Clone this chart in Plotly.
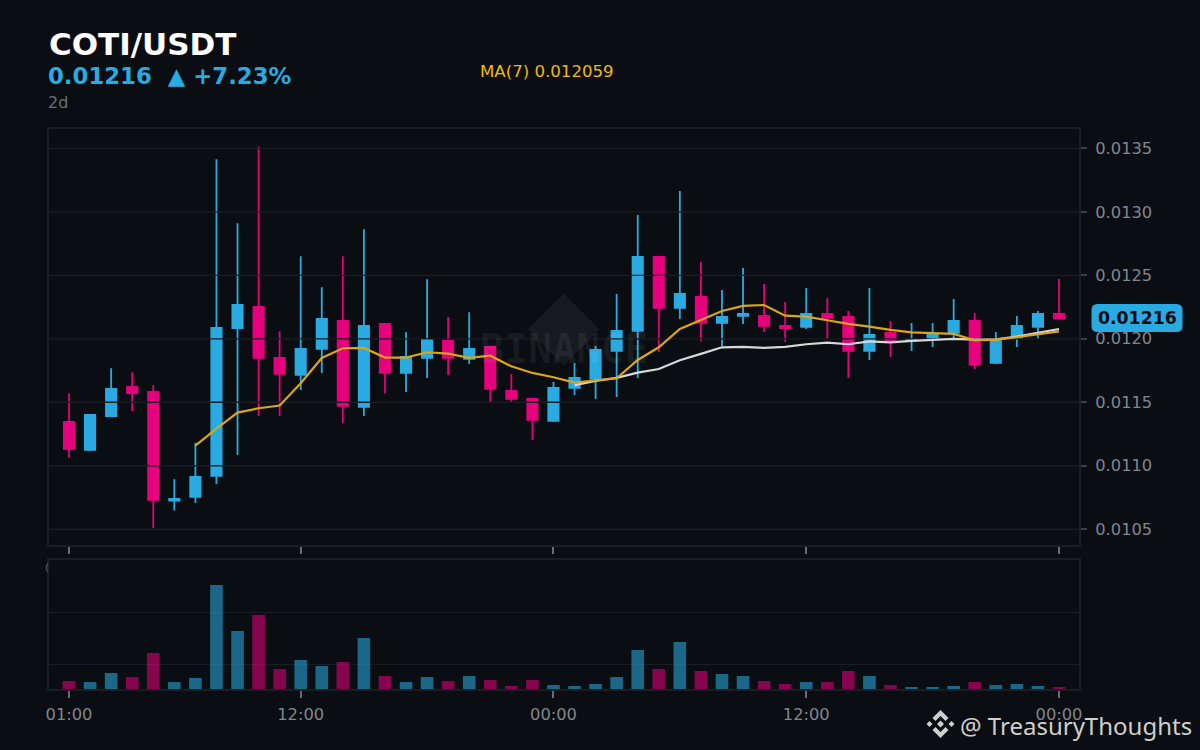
import pandas as pd
from plotly.subplots import make_subplots
import plotly.graph_objs as go

W = 1200
H = 750

times = pd.date_range('2024-03-01 01:00', periods = 48, freq = 'h')

opens = [0.011345, 0.011125, 0.011392, 0.011621, 0.011581, 0.010726, 0.010755, 0.010920,
         0.012085, 0.012251, 0.011849, 0.011715, 0.011920, 0.012140, 0.011463, 0.012117,
         0.011731, 0.011849, 0.011983, 0.011841, 0.011936, 0.011589, 0.011526, 0.011353,
         0.011613, 0.011684, 0.011904, 0.012062, 0.012644, 0.012243, 0.012329, 0.012125,
         0.012180, 0.012180, 0.012101, 0.012093, 0.012196, 0.012172, 0.011904, 0.012046,
         0.011983, 0.012007, 0.012046, 0.012140, 0.011810, 0.012007, 0.012093, 0.012196]
highs = [0.011571, 0.011408, 0.011768, 0.011736, 0.011634, 0.010894, 0.011182, 0.013413,
         0.012909, 0.013516, 0.012059, 0.012650, 0.012405, 0.012650, 0.012862, 0.012125,
         0.012051, 0.012469, 0.012172, 0.012209, 0.011944, 0.011723, 0.011534, 0.011660,
         0.011810, 0.011944, 0.012353, 0.012975, 0.012652, 0.013164, 0.012605, 0.012385,
         0.012558, 0.012432, 0.012290, 0.012400, 0.012322, 0.012219, 0.012400, 0.012140,
         0.012125, 0.012125, 0.012314, 0.012203, 0.012054, 0.012180, 0.012219, 0.012471]
lows = [0.011064, 0.011117, 0.011384, 0.011432, 0.010510, 0.010647, 0.010707, 0.010857,
        0.011085, 0.011392, 0.011392, 0.011597, 0.011731, 0.011337, 0.011392, 0.011573,
        0.011581, 0.011692, 0.011715, 0.011802, 0.011495, 0.011495, 0.011203, 0.011345,
        0.011558, 0.011526, 0.011542, 0.011692, 0.011896, 0.012156, 0.011983, 0.011944,
        0.012117, 0.012054, 0.011975, 0.012077, 0.011999, 0.011692, 0.011833, 0.011857,
        0.011904, 0.011936, 0.012007, 0.011762, 0.011802, 0.011936, 0.011999, 0.012156]
closes = [0.011133, 0.011400, 0.011605, 0.011573, 0.010731, 0.010739, 0.010912, 0.012085,
          0.012266, 0.011849, 0.011723, 0.011920, 0.012156, 0.011471, 0.012101, 0.011731,
          0.011857, 0.011991, 0.011849, 0.011920, 0.011605, 0.011526, 0.011361, 0.011613,
          0.011692, 0.011912, 0.012062, 0.012644, 0.012243, 0.012353, 0.012125, 0.012172,
          0.012196, 0.012101, 0.012085, 0.012196, 0.012164, 0.011904, 0.012030, 0.011983,
          0.011991, 0.012038, 0.012140, 0.011794, 0.011991, 0.012101, 0.012196, 0.012160]

ma7 = [None, None, None, None, None, None, 0.011159, 0.011293,
       0.011419, 0.011453, 0.011474, 0.011650, 0.011849, 0.011925, 0.011928, 0.011852,
       0.011852, 0.011894, 0.011883, 0.011849, 0.011867, 0.011783, 0.011731, 0.011697,
       0.011655, 0.011671, 0.011689, 0.011833, 0.011933, 0.012077, 0.012148, 0.012219,
       0.012259, 0.012266, 0.012182, 0.012175, 0.012146, 0.012117, 0.012096, 0.012070,
       0.012051, 0.012046, 0.012038, 0.011988, 0.011993, 0.012012, 0.012038, 0.012059]
ma25 = [None] * 24 + [0.011634, 0.011668, 0.011692, 0.011734, 0.011762, 0.011831, 0.011881, 0.011933,
                      0.011936, 0.011928, 0.011936, 0.011957, 0.011970, 0.011957, 0.011980, 0.011972,
                      0.011983, 0.011993, 0.011999, 0.011993, 0.011996, 0.012017, 0.012049, 0.012077]

volumes = [34.0, 33.0, 41.7, 37.8, 60.9, 33.0, 36.9, 126.3,
           82.1, 97.4, 45.5, 54.2, 48.4, 52.2, 75.3, 38.8,
           33.0, 37.8, 34.0, 38.8, 34.9, 29.2, 34.9, 30.1,
           29.2, 31.1, 37.8, 63.8, 45.5, 71.5, 43.6, 40.7,
           38.8, 34.0, 31.1, 33.0, 33.0, 43.6, 38.8, 30.1,
           28.2, 28.2, 29.2, 33.0, 30.1, 31.1, 29.2, 28.2]

price_ticks = [0.0105, 0.0110, 0.0115, 0.0120, 0.0125, 0.0130, 0.0135]
price_labels = ['0.0105', '0.0110', '0.0115', '0.0120', '0.0125', '0.0130', '0.0135']
volume_ticks = [50, 100]
time_ticks = ['2024-03-01 01:00', '2024-03-01 12:00', '2024-03-02 00:00', '2024-03-02 12:00', '2024-03-03 00:00']
time_labels = ['01:00', '12:00', '00:00', '12:00', '00:00']

BG = '#0a0d11'
BLUE = '#29abe2'
PINK = '#e6007e'
GRID = '#1a1d22'
TEXT = '#80868f'
LOGO = '#cfcfcf'
x_start = '2024-03-01 00:03'
x_end = '2024-03-03 00:57'

# the page comes out inset on each side, so paper x is taken from that
def px(x):
    return (x - 3) / (W - 6)

def py(y):
    return 1 - y / H

def label(text, x, y, size, color, bold = False, family = 'DejaVu Sans', anchor = 'left'):
    fig.add_annotation(xref = 'paper', yref = 'paper', x = px(x), y = py(y), text = '<b>' + text + '</b>' if bold else text,
                       showarrow = False, xanchor = anchor, yanchor = 'middle', align = 'left', borderpad = 0, borderwidth = 0,
                       font = dict(family = family, size = size, color = color))

def polygon(points, color, layer = 'above'):
    path = 'M ' + ' L '.join('{} {}'.format(px(x), py(y)) for x, y in points) + ' Z'
    fig.add_shape(type = 'path', path = path, xref = 'paper', yref = 'paper', fillcolor = color, line_width = 0, layer = layer)

def diamond(cx, cy, r, color, layer = 'above'):
    polygon([(cx - r, cy), (cx, cy - r), (cx + r, cy), (cx, cy + r)], color, layer)

fig = make_subplots(rows = 2, cols = 1)

fig.add_trace(go.Candlestick(x = times, open = opens, high = highs, low = lows, close = closes,
                             increasing = dict(line = dict(color = BLUE, width = 1.8), fillcolor = BLUE),
                             decreasing = dict(line = dict(color = PINK, width = 1.8), fillcolor = PINK),
                             whiskerwidth = 0), row = 1, col = 1)

# grid goes on top of the candles, under the moving averages
grid_x = []
grid_y = []
for tick in price_ticks:
    grid_x += [x_start, x_end, None]
    grid_y += [tick, tick, None]
fig.add_trace(go.Scatter(x = grid_x, y = grid_y, mode = 'lines', line = dict(color = GRID, width = 1.3)), row = 1, col = 1)

fig.add_trace(go.Scatter(x = times, y = ma25, mode = 'lines', line = dict(color = '#d8d8d8', width = 2.2)), row = 1, col = 1)
fig.add_trace(go.Scatter(x = times, y = ma7, mode = 'lines', line = dict(color = '#dca516', width = 2.2)), row = 1, col = 1)

vol_colors = [BLUE if c >= o else PINK for o, c in zip(opens, closes)]
fig.add_trace(go.Bar(x = times, y = volumes, marker = dict(color = vol_colors, line_width = 0), opacity = 0.57, width = 3600000 * 0.6), row = 2, col = 1)

fig.update_layout(width = W, height = H, margin = dict(l = 0, r = 0, t = 0, b = 0),
                  paper_bgcolor = BG, plot_bgcolor = BG, showlegend = False,
                  font = dict(family = 'DejaVu Sans', color = TEXT, size = 16))

fig.update_xaxes(range = [x_start, x_end], showgrid = False, zeroline = False, rangeslider_visible = False,
                 showline = True, mirror = True, linecolor = GRID, linewidth = 2,
                 tickmode = 'array', tickvals = time_ticks, ticktext = time_labels,
                 ticks = 'outside', ticklen = 7, tickwidth = 1.5, tickcolor = '#686d75')
fig.update_xaxes(domain = [px(49), px(1079)], showticklabels = False, row = 1, col = 1)
fig.update_xaxes(domain = [px(49), px(1079)], tickfont = dict(size = 16.3, color = TEXT), ticklabelstandoff = 2, row = 2, col = 1)

fig.update_yaxes(showgrid = False, zeroline = False, showline = True, mirror = True, linecolor = GRID, linewidth = 2)
fig.update_yaxes(domain = [py(545), py(129)], range = [0.010376, 0.013652], side = 'right',
                 tickmode = 'array', tickvals = price_ticks, ticktext = price_labels,
                 ticks = 'outside', ticklen = 6, tickwidth = 1.5, tickcolor = '#3c4046', ticklabelstandoff = 5,
                 tickfont = dict(size = 16.3, color = TEXT), row = 1, col = 1)
fig.update_yaxes(domain = [py(689), py(560)], range = [26.3, 150.3], side = 'right', showgrid = True, gridcolor = GRID, gridwidth = 1.3,
                 tickmode = 'array', tickvals = volume_ticks, showticklabels = False, ticks = '', row = 2, col = 1)

# faint exchange watermark behind the candles
diamond(563.5, 329.5, 36, 'rgba(255,255,255,0.05)', layer = 'below')
label('BINANCE', 564, 349, 40, 'rgba(255,255,255,0.06)', bold = True, family = 'DejaVu Sans Mono', anchor = 'center')

label('COTI/USDT', 49, 44, 31, '#ffffff', bold = True)
label('0.01216  ▲ +7.23%', 48, 76, 22.8, BLUE, bold = True)
label('2d', 48, 102, 16, '#6b7078')
label('MA(7) 0.012059', 480, 71, 16.6, '#f0b90b')

# sliver of a hidden tick label at the panel edge
label('(', 45, 567, 11, '#5f646c')

# last price tag
x0, x1, y0, y1, r = 1091.5, 1182.5, 304, 332, 6
tag = 'M {} {} L {} {} Q {} {} {} {} L {} {} Q {} {} {} {} L {} {} Q {} {} {} {} L {} {} Q {} {} {} {} Z'.format(
    px(x0 + r), py(y0), px(x1 - r), py(y0), px(x1), py(y0), px(x1), py(y0 + r),
    px(x1), py(y1 - r), px(x1), py(y1), px(x1 - r), py(y1),
    px(x0 + r), py(y1), px(x0), py(y1), px(x0), py(y1 - r),
    px(x0), py(y0 + r), px(x0), py(y0), px(x0 + r), py(y0))
fig.add_shape(type = 'path', path = tag, xref = 'paper', yref = 'paper', fillcolor = BLUE, line_width = 0, layer = 'above')
label('0.01216', 1137.5, 318, 17.3, BG, bold = True, anchor = 'center')

# credit, bottom right, with the exchange mark
label('@ TreasuryThoughts', 960, 725, 24, LOGO, family = 'Noto Sans')
lx, ly = 940.5, 724
polygon([(lx, ly - 14), (lx + 8, ly - 6), (lx + 5, ly - 3), (lx, ly - 8), (lx - 5, ly - 3), (lx - 8, ly - 6)], LOGO)
polygon([(lx, ly + 14), (lx + 8, ly + 6), (lx + 5, ly + 3), (lx, ly + 8), (lx - 5, ly + 3), (lx - 8, ly + 6)], LOGO)
diamond(lx - 11, ly, 3, LOGO)
diamond(lx + 11, ly, 3, LOGO)
diamond(lx, ly, 3.5, LOGO)

fig.write_html("out.html", config = {'displayModeBar': False}, post_script = "document.body.style.margin = '0';")
